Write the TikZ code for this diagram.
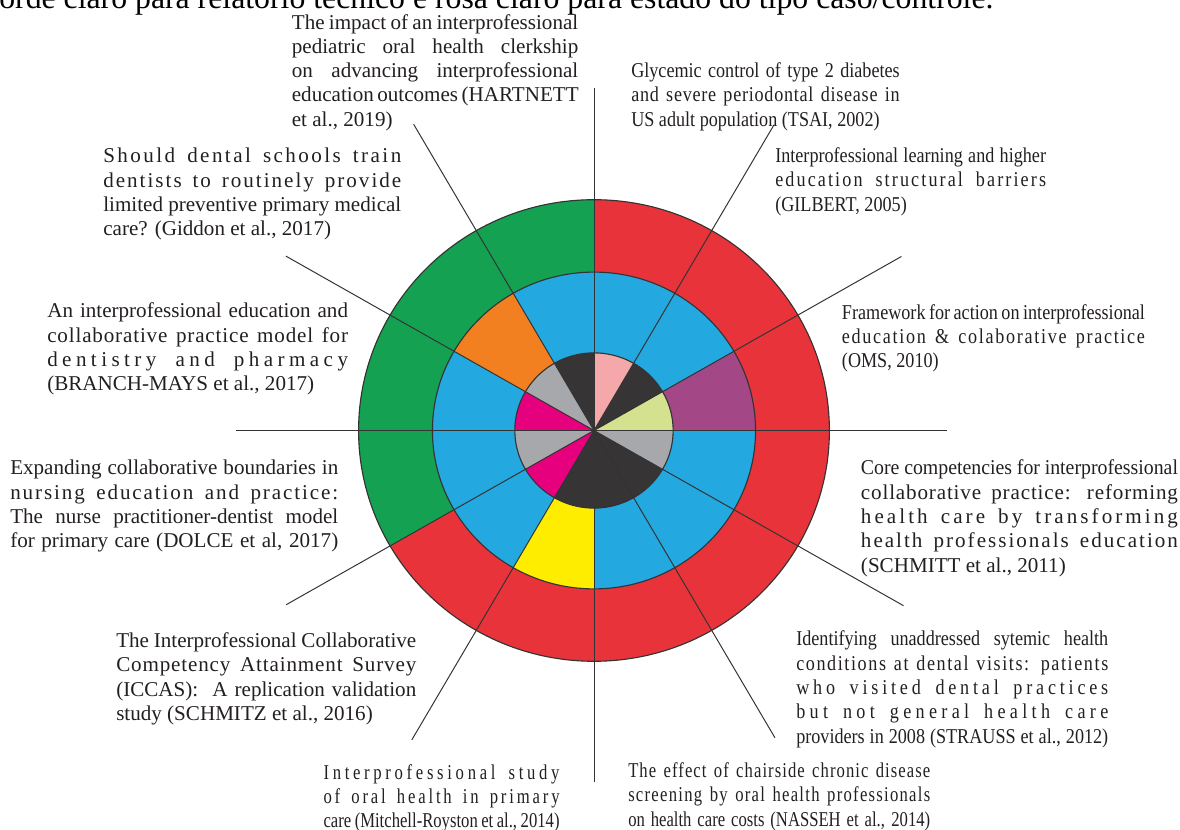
\documentclass[tikz,border=0pt]{standalone}
\usepackage{fontspec}
\setmainfont{Liberation Serif}
\newfontfamily\narrowfont[FakeStretch=0.86]{Liberation Serif}
\newfontfamily\narrowerfont[FakeStretch=0.79]{Liberation Serif}
\newfontfamily\slimfont[FakeStretch=0.94]{Liberation Serif}
\setlength{\parindent}{0pt}

\definecolor{ringred}{HTML}{E8333A}
\definecolor{ringgreen}{HTML}{14A151}
\definecolor{ringblue}{HTML}{23A8E0}
\definecolor{ringorange}{HTML}{F28020}
\definecolor{ringpurple}{HTML}{A34787}
\definecolor{ringyellow}{HTML}{FFED00}
\definecolor{corepink}{HTML}{F5A8AA}
\definecolor{corelime}{HTML}{D4E18F}
\definecolor{coregray}{HTML}{A6A8AB}
\definecolor{coredark}{HTML}{363435}
\definecolor{coremagenta}{HTML}{E6007E}
\definecolor{linegray}{HTML}{333333}
\definecolor{inkgray}{HTML}{231F20}

% one full line of a label, stretched to the block width
\newcommand{\jl}[1]{\makebox[\hsize][s]{#1}}
% same, with letter spacing
\newcommand{\spaced}[2]{\makebox[\hsize][s]{\addfontfeature{LetterSpace=#1}#2}}

\tikzset{
  lbl/.style={anchor=north west, inner sep=0pt, text width=#1, align=flush left, text=inkgray,
              font=\fontsize{15}{17.3}\selectfont, execute at begin node=\strut},
  narrow/.style={font=\narrowfont\fontsize{15}{17.3}\selectfont},
  narrower/.style={font=\narrowerfont\fontsize{15}{17.3}\selectfont},
  ring/.style={draw=linegray, line width=0.8pt},
  spoke/.style={draw=linegray, line width=0.7pt},
}

\begin{document}
\begin{tikzpicture}[x=1.02cm, y=1cm]

                    \useasboundingbox (-14.559,-9.9875) rectangle (14.363,10.7625);
                    \coordinate (c) at (0,0);

                    % caption of the page above, cut by the frame
                    \node[anchor=base west, inner sep=0pt, font=\fontsize{22.6}{27}\selectfont] (caption) at (-14.583,10.54) {orde claro para relatório técnico e rosa claro para estado do tipo caso/controle.};

                    % outer ring
                    \fill[ringred] (c) circle (5.77);
                    \fill[ringgreen] (c) -- (90:5.77) arc (90:210:5.77) -- cycle;

                    % middle ring
                    \fill[ringblue] (c) circle (3.96);
                    \fill[ringpurple] (c) -- (0:3.96) arc (0:30:3.96) -- cycle;
                    \fill[ringorange] (c) -- (120:3.96) arc (120:150:3.96) -- cycle;
                    \fill[ringyellow] (c) -- (240:3.96) arc (240:270:3.96) -- cycle;

                    % inner ring
                    \fill[corelime] (c) -- (0:1.94) arc (0:30:1.94) -- cycle;
                    \fill[coredark] (c) -- (30:1.94) arc (30:60:1.94) -- cycle;
                    \fill[corepink] (c) -- (60:1.94) arc (60:90:1.94) -- cycle;
                    \fill[coredark] (c) -- (90:1.94) arc (90:120:1.94) -- cycle;
                    \fill[coregray] (c) -- (120:1.94) arc (120:150:1.94) -- cycle;
                    \fill[coremagenta] (c) -- (150:1.94) arc (150:180:1.94) -- cycle;
                    \fill[coregray] (c) -- (180:1.94) arc (180:210:1.94) -- cycle;
                    \fill[coremagenta] (c) -- (210:1.94) arc (210:240:1.94) -- cycle;
                    \fill[coredark] (c) -- (240:1.94) arc (240:330:1.94) -- cycle;
                    \fill[coregray] (c) -- (330:1.94) arc (330:360:1.94) -- cycle;

                    \draw[ring] (c) circle (5.77);
                    \draw[ring] (c) circle (3.96);
                    \draw[ring] (c) circle (1.94);

                    % ends of the dividing lines
                    \coordinate (ray0) at (0:8.64);
                    \coordinate (ray30) at (30:8.70);
                    \coordinate (ray60) at (60:8.82);
                    \coordinate (ray90) at (90:8.56);
                    \coordinate (ray120) at (120:8.84);
                    \coordinate (ray150) at (150:8.72);
                    \coordinate (ray180) at (180:8.78);
                    \coordinate (ray210) at (210:8.71);
                    \coordinate (ray240) at (240:8.93);
                    \coordinate (ray270) at (270:8.80);
                    \coordinate (ray300) at (300:8.87);
                    \coordinate (ray330) at (330:8.76);

                    \draw[spoke] (c) -- (ray0);
                    \draw[spoke] (c) -- (ray30);
                    \draw[spoke] (c) -- (ray60);
                    \draw[spoke] (c) -- (ray90);
                    \draw[spoke] (c) -- (ray120);
                    \draw[spoke] (c) -- (ray150);
                    \draw[spoke] (c) -- (ray180);
                    \draw[spoke] (c) -- (ray210);
                    \draw[spoke] (c) -- (ray240);
                    \draw[spoke] (c) -- (ray270);
                    \draw[spoke] (c) -- (ray300);
                    \draw[spoke] (c) -- (ray330);

                    % labels, clockwise from the top
                    \node[lbl=7.16cm] (hartnett) at (-7.412,10.47) {\jl{The impact of an interprofessional}\\ \jl{pediatric oral health clerkship}\\ \jl{on advancing interprofessional}\\ \jl{education outcomes (HARTNETT}\\ et al., 2019)};
                    \node[lbl=6.71cm, narrow] (tsai) at (0.907,9.2575) {\jl{Glycemic control of type 2 diabetes}\\ \spaced{3.5}{and severe periodontal disease in}\\ US adult population (TSAI, 2002)};
                    \node[lbl=6.77cm, narrow] (gilbert) at (4.436,7.1325) {\jl{Interprofessional learning and higher}\\ \spaced{10}{education structural barriers}\\ (GILBERT, 2005)};
                    \node[lbl=7.575cm, narrow] (oms) at (6.071,3.2175) {\jl{Framework for action on interprofessional}\\ \spaced{8}{education \& colaborative practice}\\ (OMS, 2010)};
                    \node[lbl=7.925cm] (schmitt) at (6.537,-0.675) {{\slimfont\jl{Core competencies for interprofessional}}\\ \spaced{4}{collaborative practice: reforming}\\ \spaced{14.5}{health care by transforming}\\ \spaced{9.5}{health professionals education}\\ (SCHMITT et al., 2011)};
                    \node[lbl=7.8cm, narrow] (strauss) at (4.951,-4.95) {\jl{Identifying unaddressed sytemic health}\\ \spaced{7.5}{conditions at dental visits: patients}\\ \spaced{18}{who visited dental practices}\\ \spaced{20.5}{but not general health care}\\ \jl{providers in 2008 (STRAUSS et al., 2012)}};
                    \node[lbl=7.55cm, narrower] (nasseh) at (0.833,-8.2425) {\spaced{5}{The effect of chairside chronic disease}\\ \spaced{6}{screening by oral health professionals}\\ \jl{on health care costs (NASSEH et al., 2014)}};
                    \node[lbl=5.9cm, narrower] (mitchell) at (-6.635,-8.2825) {\spaced{17.5}{Interprofessional study}\\ \spaced{13.5}{of oral health in primary}\\ \jl{care (Mitchell-Royston et al., 2014)}};
                    \node[lbl=7.5cm] (schmitz) at (-11.716,-4.9925) {\jl{The Interprofessional Collaborative}\\ \spaced{4}{Competency Attainment Survey}\\ \jl{(ICCAS):\ \ A replication validation}\\ study (SCHMITZ et al., 2016)};
                    \node[lbl=8.2cm] (dolce) at (-14.314,-0.675) {\jl{Expanding collaborative boundaries in}\\ \spaced{9}{nursing education and practice:}\\ \jl{The nurse practitioner-dentist model}\\ \jl{for primary care (DOLCE et al, 2017)}};
                    \node[lbl=7.52cm] (branch) at (-13.407,3.25) {\jl{An interprofessional education and}\\ \spaced{4}{collaborative practice model for}\\ \spaced{21}{dentistry and pharmacy}\\ (BRANCH-MAYS et al., 2017)};
                    \node[lbl=7.45cm] (giddon) at (-12.034,7.125) {\spaced{11.5}{Should dental schools train}\\ \spaced{9.5}{dentists to routinely provide}\\ \jl{limited preventive primary medical}\\ care? (Giddon et al., 2017)};

                \end{tikzpicture}
\end{document}
